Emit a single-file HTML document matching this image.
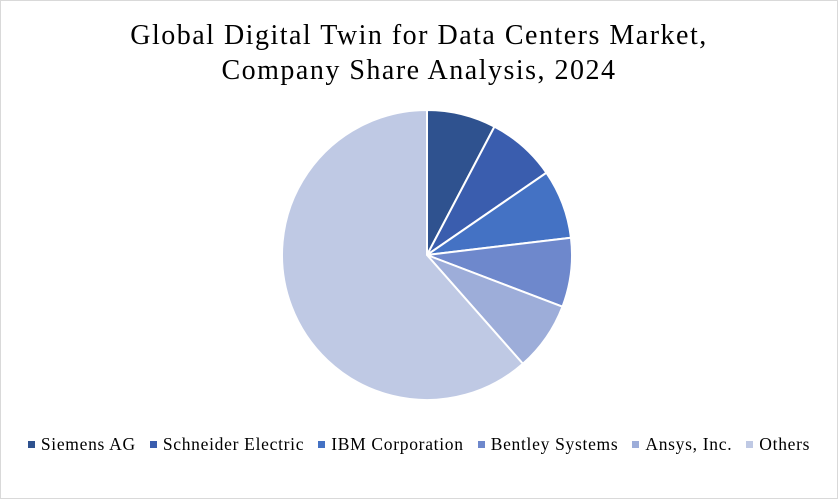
<!DOCTYPE html>
<html><head><meta charset="utf-8">
<style>
html,body{margin:0;padding:0;background:#fff;}
#chart{position:relative;width:836px;height:497px;border:1px solid #d9d9d9;font-family:"Liberation Serif",serif;}
#title{position:absolute;left:0;top:17px;width:836px;text-align:center;font-size:28px;letter-spacing:1.5px;line-height:35px;color:#000;}
#legend{position:absolute;left:0;top:433px;width:836px;text-align:center;font-size:17.5px;letter-spacing:0.7px;color:#000;white-space:nowrap;}
.le{display:inline-block;margin:0 7px;}
.sw{display:inline-block;width:7px;height:7px;margin-right:6px;vertical-align:2px;}
svg{position:absolute;left:0;top:0;}
</style></head><body>
<div id="chart">
<div id="title">Global Digital Twin for Data Centers Market,<br>Company Share Analysis, 2024</div>
<svg id="pie" width="836" height="497"></svg>
<div id="legend"></div>
</div>
<script>
const categories = ["Siemens AG","Schneider Electric","IBM Corporation","Bentley Systems","Ansys, Inc.","Others"];
const shares = [7.7,7.7,7.7,7.7,7.7,61.5];
const colors = ["#2F528F","#3A5DAE","#4472C4","#6E88CC","#9DADD9","#BFC9E4"];
const cx=426, cy=254, r=145;
const svg=document.getElementById('pie');
const total=shares.reduce((a,b)=>a+b,0);
let a0=0;
shares.forEach((v,i)=>{
  const a1=a0+v/total*2*Math.PI;
  const x0=cx+r*Math.sin(a0), y0=cy-r*Math.cos(a0);
  const x1=cx+r*Math.sin(a1), y1=cy-r*Math.cos(a1);
  const large=(a1-a0)>Math.PI?1:0;
  const p=document.createElementNS('http://www.w3.org/2000/svg','path');
  p.setAttribute('d',`M${cx},${cy} L${x0},${y0} A${r},${r} 0 ${large} 1 ${x1},${y1} Z`);
  p.setAttribute('fill',colors[i]);
  p.setAttribute('stroke','#fff');
  p.setAttribute('stroke-width','2');
  
  
  svg.appendChild(p);
  a0=a1;
});
const lg=document.getElementById('legend');
categories.forEach((c,i)=>{
  const s=document.createElement('span');
  s.className='le';
  
  
  s.innerHTML=`<span class="sw" style="background:${colors[i]}"></span>${c}`;
  lg.appendChild(s);
});
</script>
</body></html>
